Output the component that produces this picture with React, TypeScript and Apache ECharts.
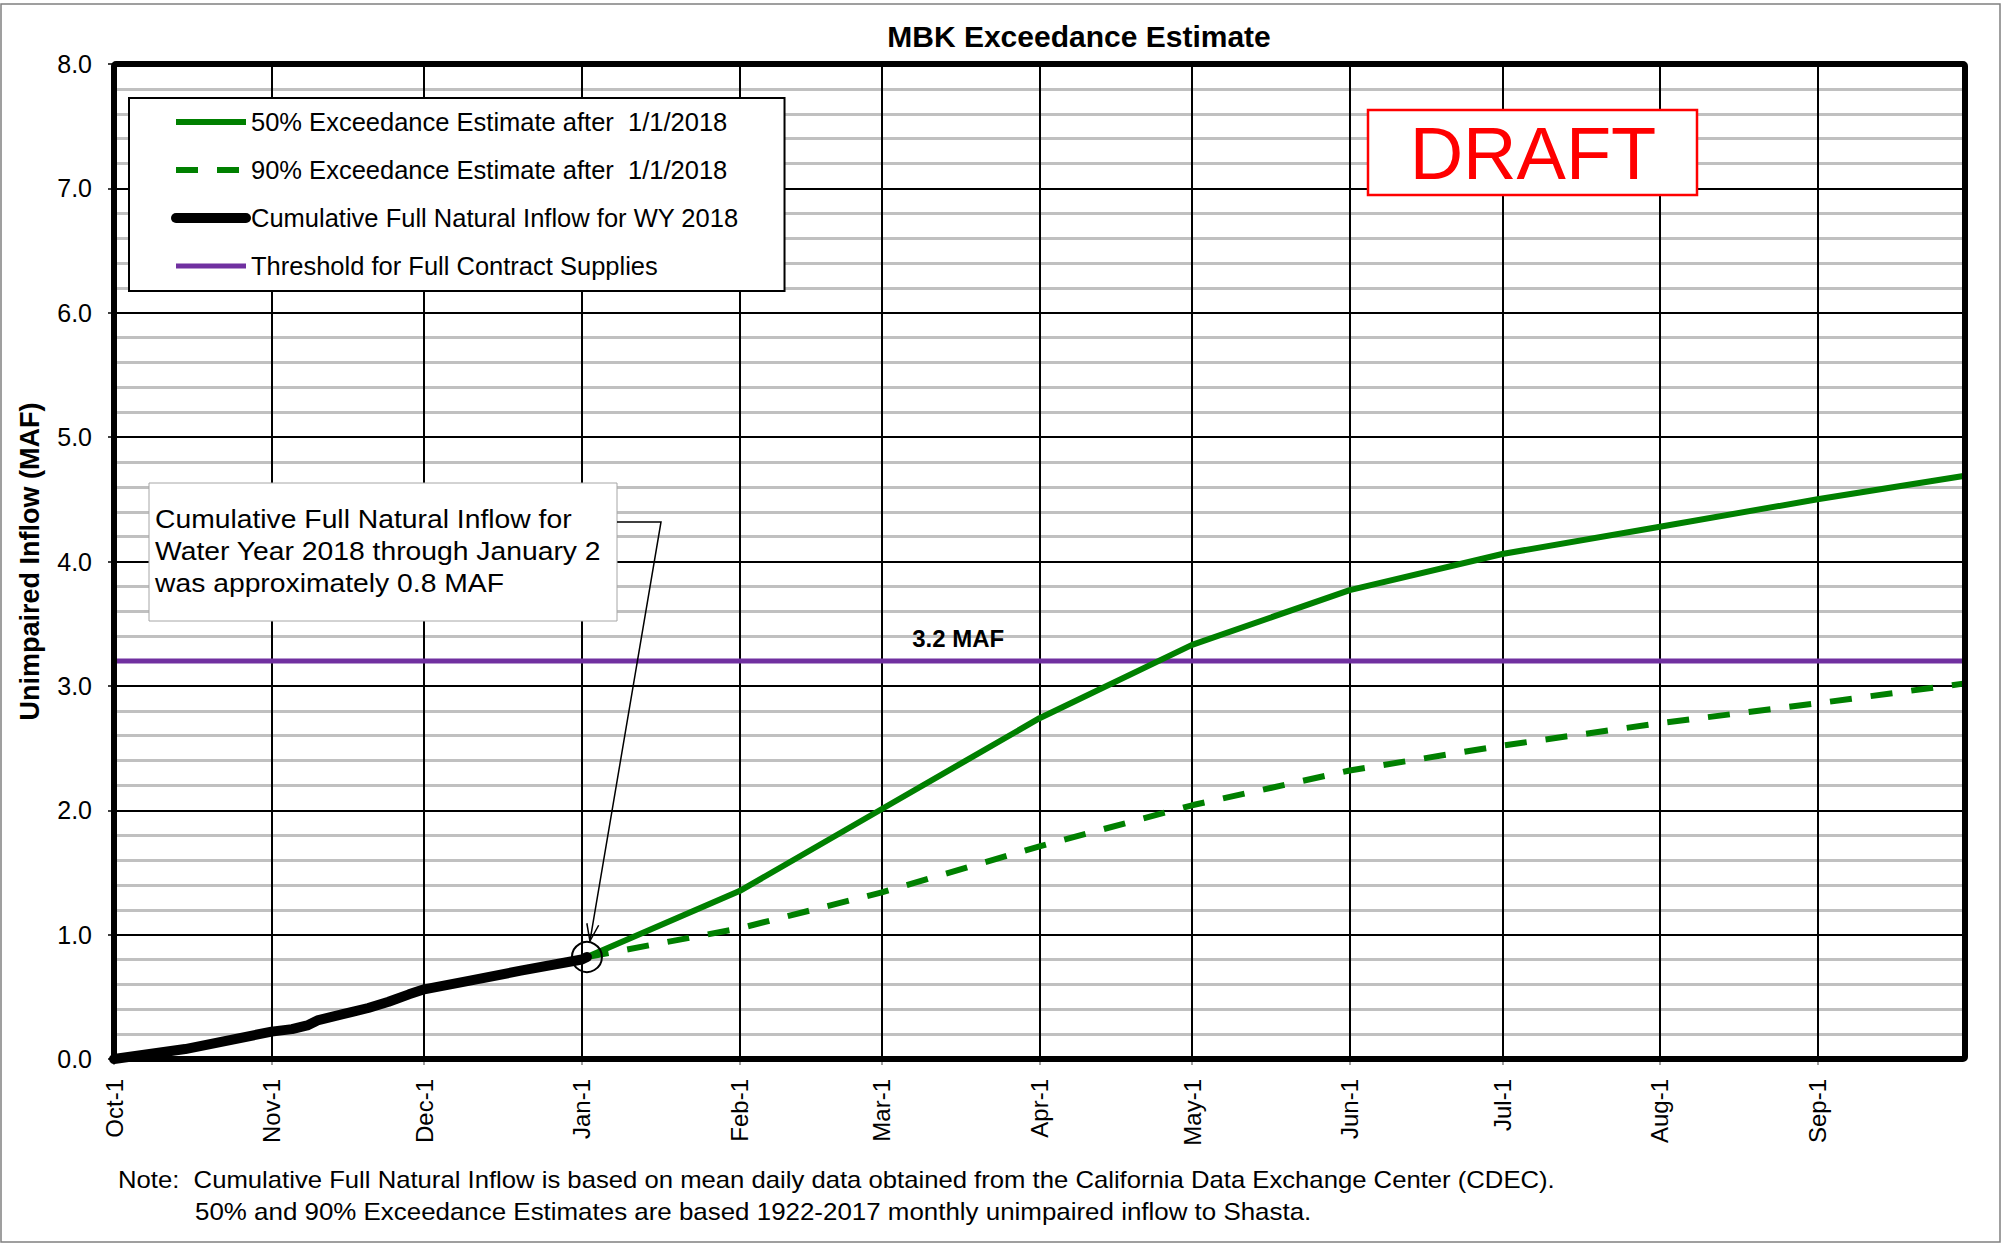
import React, { useEffect, useRef } from 'react';
import * as echarts from 'echarts';

const FONT = "'Liberation Sans', Arial, Helvetica, sans-serif";

// ---------- data ----------
const monthLabels = ['Oct-1', 'Nov-1', 'Dec-1', 'Jan-1', 'Feb-1', 'Mar-1', 'Apr-1', 'May-1', 'Jun-1', 'Jul-1', 'Aug-1', 'Sep-1'];
const monthStartDates = ['2017-10-01', '2017-11-01', '2017-12-01', '2018-01-01', '2018-02-01', '2018-03-01', '2018-04-01', '2018-05-01', '2018-06-01', '2018-07-01', '2018-08-01', '2018-09-01'];
const axisStartDate = '2017-10-01';
const axisEndDate = '2018-09-30';

const estimateDates = ['2018-01-02', '2018-02-01', '2018-03-01', '2018-04-01', '2018-05-01', '2018-06-01', '2018-07-01', '2018-08-01', '2018-09-01', '2018-09-30'];
const exceed50 = [0.82, 1.35, 2.01, 2.74, 3.33, 3.77, 4.06, 4.28, 4.5, 4.69];
const exceed90 = [0.82, 1.05, 1.34, 1.71, 2.04, 2.32, 2.52, 2.7, 2.86, 3.02];

const cfniDates = ['2017-10-01', '2017-10-15', '2017-11-01', '2017-11-05', '2017-11-08', '2017-11-10', '2017-11-12', '2017-11-15', '2017-11-20', '2017-11-24', '2017-11-28', '2017-12-01', '2017-12-10', '2017-12-20', '2018-01-01', '2018-01-02'];
const cfniValues = [0.0, 0.08, 0.22, 0.24, 0.27, 0.31, 0.33, 0.36, 0.41, 0.46, 0.52, 0.56, 0.63, 0.71, 0.8, 0.82];

const thresholdValue = 3.2;
const thresholdLabel = '3.2 MAF';
const thresholdLabelDate = '2018-03-16';

const seriesNames = [
  '50% Exceedance Estimate after  1/1/2018',
  '90% Exceedance Estimate after  1/1/2018',
  'Cumulative Full Natural Inflow for WY 2018',
  'Threshold for Full Contract Supplies',
];

const titleText = 'MBK Exceedance Estimate';
const yAxisTitle = 'Unimpaired Inflow (MAF)';
const annotationText = 'Cumulative Full Natural Inflow for\nWater Year 2018 through January 2\nwas approximately 0.8 MAF';
const noteLine1 = 'Note:  Cumulative Full Natural Inflow is based on mean daily data obtained from the California Data Exchange Center (CDEC).';
const noteLine2 = '50% and 90% Exceedance Estimates are based 1922-2017 monthly unimpaired inflow to Shasta.';

// ---------- helpers ----------
function dayOf(d: string): number {
  const [y, m, dd] = d.split('-').map(Number);
  const [y0, m0, d0] = axisStartDate.split('-').map(Number);
  return Math.round((Date.UTC(y, m - 1, dd) - Date.UTC(y0, m0 - 1, d0)) / 86400000);
}

const monthDays = monthStartDates.map(dayOf);
const maxDay = dayOf(axisEndDate);
const pairs = (dates: string[], vals: number[]) => dates.map((d, i) => [dayOf(d), vals[i]]);

export default function App() {
  const ref = useRef<HTMLDivElement>(null);

  useEffect(() => {
    if (!ref.current) return;
    const chart = echarts.init(ref.current, undefined, { renderer: 'svg' });

    const option: any = {
      animation: false,
      backgroundColor: '#ffffff',
      textStyle: { fontFamily: FONT },
      grid: { left: 114, right: 42, top: 64, bottom: 185, show: false },
      xAxis: {
        type: 'value',
        min: 0,
        max: maxDay,
        z: 1,
        axisLine: { show: false },
        axisTick: { show: true, length: 6, customValues: monthDays, lineStyle: { color: '#808080', width: 1.5 } },
        axisLabel: {
          customValues: monthDays,
          rotate: 90,
          margin: 20,
          fontSize: 24,
          color: '#000',
          fontFamily: FONT,
          formatter: (v: number) => {
            const i = monthDays.indexOf(Math.round(v));
            return i >= 0 ? monthLabels[i] : '';
          },
        },
        splitLine: { show: true, lineStyle: { color: '#000', width: 2 } },
      },
      yAxis: {
        type: 'value',
        min: 0,
        max: 8,
        interval: 1,
        z: 0,
        name: yAxisTitle,
        nameLocation: 'middle',
        nameRotate: 90,
        nameGap: 71,
        nameTextStyle: { fontSize: 27, fontWeight: 'bold', color: '#000', fontFamily: FONT },
        axisLine: { show: false },
        axisTick: { show: true, length: 6, lineStyle: { color: '#000', width: 1.5 } },
        axisLabel: { fontSize: 25, color: '#000', margin: 22, fontFamily: FONT, formatter: (v: number) => v.toFixed(1) },
        splitLine: { show: true, lineStyle: { color: '#000', width: 2 } },
        minorTick: { show: false, splitNumber: 5 },
        minorSplitLine: { show: true, lineStyle: { color: '#c0c0c0', width: 3 } },
      },
      legend: {
        orient: 'vertical',
        left: 129,
        top: 98,
        data: seriesNames,
        itemWidth: 70,
        itemHeight: 10,
        itemGap: 18,
        padding: [9, 46, 10, 42],
        backgroundColor: '#ffffff',
        borderColor: '#000',
        borderWidth: 2,
        borderRadius: 0,
        lineStyle: { width: 'inherit', type: 'inherit', cap: 'inherit' },
        itemStyle: { color: 'rgba(0,0,0,0)', borderWidth: 0, opacity: 0 },
        textStyle: { fontSize: 25.5, color: '#000', fontFamily: FONT, lineHeight: 30 },
        z: 10,
      },
      series: [
        {
          name: seriesNames[3],
          type: 'line',
          data: [[0, thresholdValue], [maxDay, thresholdValue]],
          symbol: 'none',
          lineStyle: { color: '#7030A0', width: 5 },
          itemStyle: { color: '#7030A0' },
          z: 2,
        },
        {
          name: seriesNames[1],
          type: 'line',
          data: pairs(estimateDates, exceed90),
          symbol: 'none',
          lineStyle: { color: '#008000', width: 6, type: [22, 19] },
          itemStyle: { color: '#008000' },
          z: 3,
        },
        {
          name: seriesNames[0],
          type: 'line',
          data: pairs(estimateDates, exceed50),
          symbol: 'none',
          lineStyle: { color: '#008000', width: 6 },
          itemStyle: { color: '#008000' },
          z: 4,
        },
        {
          name: seriesNames[2],
          type: 'line',
          data: pairs(cfniDates, cfniValues),
          symbol: 'none',
          lineStyle: { color: '#000', width: 10, cap: 'round', join: 'round' },
          itemStyle: { color: '#000' },
          z: 5,
        },
      ],
    };

    chart.setOption(option);

    const toPx = (d: number, v: number) => chart.convertToPixel({ gridIndex: 0 }, [d, v]) as number[];
    const [x0, y0] = toPx(0, 0);
    const [x1, y1] = toPx(maxDay, 8);
    const lastIdx = cfniDates.length - 1;
    const [cx, cy] = toPx(dayOf(cfniDates[lastIdx]), cfniValues[lastIdx]);
    const [lx, ly] = toPx(dayOf(thresholdLabelDate), thresholdValue);

    const tipX = cx + 3;
    const tipY = cy - 16;
    const fromX = 661;
    const fromY = 522;
    const dx = fromX - tipX;
    const dy = fromY - tipY;
    const len = Math.sqrt(dx * dx + dy * dy);
    const ux = dx / len;
    const uy = dy / len;
    const back = 17;
    const half = 6;
    const w1 = [tipX + ux * back - uy * half, tipY + uy * back + ux * half];
    const w2 = [tipX + ux * back + uy * half, tipY + uy * back - ux * half];

    chart.setOption({
      graphic: [
        {
          type: 'rect', silent: true, z: 0,
          shape: { x: 1, y: 4, width: 1999, height: 1238 },
          style: { fill: 'none', stroke: '#808080', lineWidth: 1.5 },
        },
        {
          type: 'rect', silent: true, z: 50,
          shape: { x: x0, y: y1, width: x1 - x0, height: y0 - y1, r: 2 },
          style: { fill: 'none', stroke: '#000', lineWidth: 6 },
        },
        {
          type: 'text', silent: true, z: 60, x: 1079, y: 36,
          style: { text: titleText, font: `bold 30px ${FONT}`, fill: '#000', align: 'center', verticalAlign: 'middle', textAlign: 'center', textVerticalAlign: 'middle' },
        },
        {
          type: 'rect', silent: true, z: 60,
          shape: { x: 1368, y: 110, width: 329, height: 85 },
          style: { fill: '#fff', stroke: '#ff0000', lineWidth: 2.5 },
        },
        {
          type: 'text', silent: true, z: 61, x: 1533, y: 153,
          style: { text: 'DRAFT', font: `74px ${FONT}`, fill: '#ff0000', align: 'center', verticalAlign: 'middle', textAlign: 'center', textVerticalAlign: 'middle' },
        },
        {
          type: 'rect', silent: true, z: 60,
          shape: { x: 149, y: 483, width: 468, height: 138 },
          style: { fill: '#fff', stroke: '#a6a6a6', lineWidth: 1 },
        },
        {
          type: 'text', silent: true, z: 61, x: 155, y: 503, scaleX: 1.11,
          style: { text: annotationText, font: `25.5px ${FONT}`, lineHeight: 32, fill: '#000', align: 'left', verticalAlign: 'top', textAlign: 'left', textVerticalAlign: 'top' },
        },
        {
          type: 'polyline', silent: true, z: 62,
          shape: { points: [[617, 522], [fromX, fromY], [tipX, tipY]] },
          style: { fill: 'none', stroke: '#000', lineWidth: 1.5 },
        },
        {
          type: 'polyline', silent: true, z: 62,
          shape: { points: [w1, [tipX, tipY], w2] },
          style: { fill: 'none', stroke: '#000', lineWidth: 1.5 },
        },
        {
          type: 'circle', silent: true, z: 62,
          shape: { cx, cy, r: 15 },
          style: { fill: 'none', stroke: '#000', lineWidth: 2 },
        },
        {
          type: 'text', silent: true, z: 61, x: lx, y: ly - 23,
          style: { text: thresholdLabel, font: `bold 24px ${FONT}`, fill: '#000', align: 'center', verticalAlign: 'middle', textAlign: 'center', textVerticalAlign: 'middle' },
        },
        {
          type: 'text', silent: true, z: 61, x: 118, y: 1180, scaleX: 1.07,
          style: { text: noteLine1, font: `24px ${FONT}`, fill: '#000', align: 'left', verticalAlign: 'middle', textAlign: 'left', textVerticalAlign: 'middle' },
        },
        {
          type: 'text', silent: true, z: 61, x: 195, y: 1211, scaleX: 1.08,
          style: { text: noteLine2, font: `24px ${FONT}`, fill: '#000', align: 'left', verticalAlign: 'middle', textAlign: 'left', textVerticalAlign: 'middle' },
        },
      ],
    });

    return () => {
      chart.dispose();
    };
  }, []);

  return (
    <div
      ref={ref}
      style={{ position: 'fixed', left: 0, top: 0, width: '2007px', height: '1244px', background: '#fff' }}
    />
  );
}
